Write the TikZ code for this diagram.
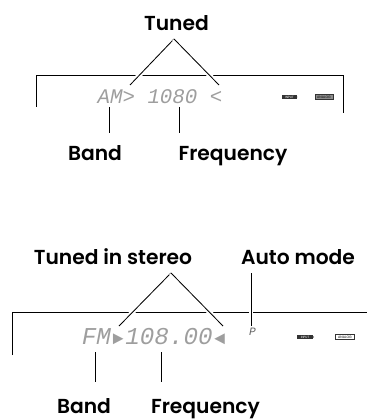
\documentclass[tikz,border=0pt]{standalone}
\usepackage{fontspec}
\setmainfont{Poppins}[BoldFont={Poppins SemiBold}]
\newfontfamily\lcdfont{Liberation Mono}
\usetikzlibrary{arrows.meta, positioning, shapes.arrows}
\newcommand{\lcdmark}[1]{\makebox[10.3pt]{\fontsize{13}{14}\selectfont #1}}

\begin{document}
\begin{tikzpicture}[
  x=0.025cm, y=-0.025cm,
  callout/.style={font=\fontsize{14.4}{16}\selectfont\bfseries, inner sep=0pt, text=black, anchor=base},
  frameline/.style={line width=0.65pt},
  lead/.style={line width=0.6pt},
  crossing/.style={preaction={draw=white, line width=3.5pt}, line width=0.6pt},
  lcdsmall/.style={font=\fontsize{14.8}{16}\lcdfont\itshape, text=black!38, inner sep=0pt},
  lcdbig/.style={font=\fontsize{17.2}{18}\lcdfont\itshape, text=black!38, inner sep=0pt},
  inputtag/.style={fill=black!80, text=white, font=\fontsize{2.2}{3}\selectfont, inner sep=0pt, minimum height=3.2pt},
  analogtag/.style={draw=black!80, line width=0.4pt, font=\fontsize{2.4}{3}\selectfont, inner sep=0pt, minimum height=3.6pt}
]
\useasboundingbox (0,0) rectangle (367,419);

% upper display
\node[callout] (tunedA) at (176.5,31) {Tuned};
\node[callout] (bandA) at (95,161) {Band};
\node[callout] (freqA) at (233,161) {Frequency};
\node[lcdsmall] (readA) at (160,96.5) {AM> 1080 <};
\node[inputtag, minimum width=11pt] (inputA) at (289.5,97) {INPUT};
\node[analogtag, fill=black!45, minimum width=12.5pt] (analogA) at (324,97) {ANALOG};

\coordinate (apexA) at (174,39);
\coordinate (leftA) at (130,85);
\coordinate (rightA) at (219,85);
\coordinate (bandtopA) at (109,107);
\coordinate (bandendA) at (109,133);
\coordinate (freqtopA) at (179,107);
\coordinate (freqendA) at (179,133);
\draw[inputtag, fill=black!80, draw=none] (296,95.7) -- (297.5,97) -- (296,98.3) -- cycle;

\draw[frameline] (36,107) -- (36,75) -- (343,75) -- (343,113);
\draw[crossing] (apexA) -- (leftA);
\draw[crossing] (apexA) -- (rightA);
\draw[lead] (bandtopA) -- (bandendA);
\draw[lead] (freqtopA) -- (freqendA);

% lower display
\node[callout] (tunedB) at (113,264) {Tuned in stereo};
\node[callout] (autoB) at (298,264) {Auto mode};
\node[callout] (bandB) at (84,413.5) {Band};
\node[callout] (freqB) at (205.5,413.5) {Frequency};
\node[lcdbig] (readB) at (154.5,337) {FM\lcdmark{►}108.00\lcdmark{◄}};
\node[lcdsmall, font=\fontsize{8}{9}\lcdfont\itshape, text=black!60] (markB) at (252.5,332) {P};
\node[inputtag, minimum width=11.5pt] (inputB) at (305,337) {INPUT};
\node[analogtag, fill=white, minimum width=13.5pt] (analogB) at (345,337) {ANALOG};

\coordinate (apexB) at (171,273);
\coordinate (leftB) at (119,326);
\coordinate (rightB) at (223,326);
\coordinate (autotopB) at (251,273);
\coordinate (autoendB) at (251,326);
\coordinate (bandtopB) at (95,352);
\coordinate (bandendB) at (95,382);
\coordinate (freqtopB) at (161,352);
\coordinate (freqendB) at (161,382);
\draw[inputtag, fill=black!80, draw=none] (312.5,335.7) -- (314,337) -- (312.5,338.3) -- cycle;

\draw[frameline] (12,355) -- (12,312) -- (367,312);
\draw[crossing] (apexB) -- (leftB);
\draw[crossing] (apexB) -- (rightB);
\draw[crossing] (autotopB) -- (autoendB);
\draw[lead] (bandtopB) -- (bandendB);
\draw[lead] (freqtopB) -- (freqendB);
\end{tikzpicture}
\end{document}
